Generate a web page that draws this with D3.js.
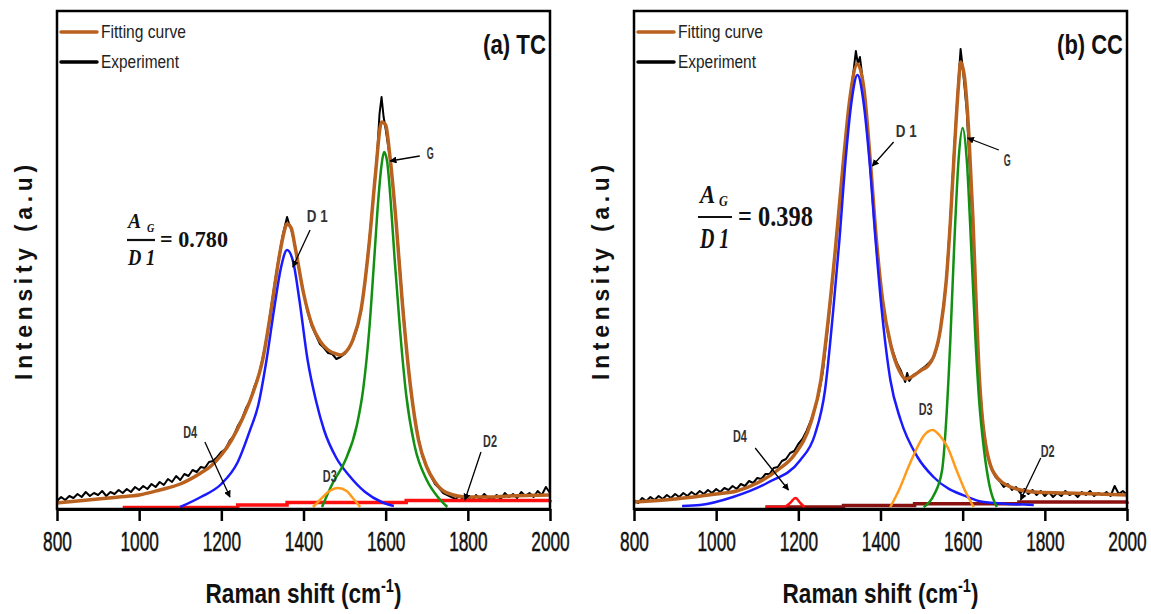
<!DOCTYPE html>
<html>
<head>
<meta charset="utf-8">
<script src="https://cdn.jsdelivr.net/npm/d3@7"></script>
<style>
  body { margin: 0; background: #fff; }
  svg { display: block; }
</style>
</head>
<body>
<svg width="1151" height="614"></svg>
<script>
// x ticks (Raman shift, cm-1)
const xTicks = [800, 1000, 1200, 1400, 1600, 1800, 2000]

// ---- (a) TC : [shift, intensity a.u.] ----
const tcExp = [[800,8],[810,12],[820,9],[830,13],[840,11],[850,15],[860,12],[870,17],[880,13],[890,16],[900,14],[910,18],[920,13],[930,17],[940,15],[950,19],[960,16],[970,20],[980,17],[990,22],[1000,19],[1010,23],[1020,20],[1030,25],[1040,22],[1050,27],[1060,24],[1070,30],[1080,27],[1090,33],[1100,29],[1110,35],[1120,33],[1130,39],[1140,37],[1150,42],[1160,41],[1170,47],[1180,48],[1190,52],[1200,57],[1210,60],[1220,68],[1230,73],[1240,83],[1250,90],[1260,101],[1270,108],[1280,122],[1290,132],[1300,150],[1310,170],[1320,198],[1330,226],[1340,252],[1350,275],[1360,292],[1365,285],[1370,280],[1380,262],[1390,238],[1400,216],[1410,197],[1420,183],[1430,174],[1440,165],[1450,161],[1460,156],[1470,155],[1480,150],[1490,152],[1500,155],[1510,160],[1520,168],[1530,180],[1540,198],[1550,228],[1560,268],[1570,312],[1580,360],[1585,395],[1590,412],[1595,392],[1600,380],[1610,352],[1620,312],[1630,264],[1640,212],[1650,162],[1660,122],[1670,92],[1680,70],[1690,52],[1700,42],[1710,33],[1720,25],[1730,21],[1740,16],[1750,14],[1760,12],[1770,10],[1780,13],[1790,9],[1800,12],[1810,8],[1820,14],[1830,10],[1840,15],[1850,11],[1860,9],[1870,14],[1880,10],[1890,16],[1900,12],[1910,15],[1920,11],[1930,17],[1940,13],[1950,16],[1960,12],[1970,18],[1980,14],[1990,22],[2000,16]]
const tcFit = [[800,6],[850,8],[900,10],[950,12],[1000,14],[1050,19],[1100,25],[1150,36],[1175,43],[1200,54],[1225,69],[1250,89],[1275,114],[1300,148],[1320,196],[1340,250],[1350,272],[1360,285],[1370,281],[1380,261],[1400,216],[1420,185],[1440,168],[1460,159],[1480,155],[1490,154],[1500,156],[1520,169],[1540,199],[1560,266],[1575,334],[1590,387],[1600,384],[1610,354],[1625,289],[1640,209],[1660,124],[1680,69],[1700,42],[1720,27],[1750,16],[1800,12],[1850,12],[1900,13],[2000,14]]
const tcD1 = [[1100,2],[1150,12],[1200,25],[1240,47],[1270,79],[1290,104],[1310,149],[1330,204],[1345,241],[1360,259],[1375,247],[1390,209],[1410,149],[1430,109],[1450,79],[1480,51],[1510,34],[1550,17],[1590,7],[1620,3]]
const tcG = [[1445,2],[1470,25],[1500,47],[1530,84],[1545,119],[1560,179],[1572,249],[1582,309],[1590,344],[1596,357],[1603,349],[1612,309],[1622,249],[1635,179],[1650,114],[1670,64],[1700,29],[1725,13],[1750,2]]
const tcD3 = [[1423,2],[1440,9],[1460,17],[1484,21],[1505,18],[1520,11],[1538,2]]
const tcD4D2 = [[960,1.5],[1240,4],[1360,6.5],[1650,8.5],[2000,9]]

// ---- (b) CC ----
const ccExp = [[800,9],[810,6],[820,11],[830,8],[840,12],[850,9],[860,13],[870,10],[880,14],[890,11],[900,15],[910,12],[920,16],[930,13],[940,17],[950,14],[960,18],[970,15],[980,19],[990,16],[1000,20],[1010,17],[1020,21],[1030,19],[1040,23],[1050,20],[1060,25],[1070,23],[1080,28],[1090,26],[1100,31],[1110,30],[1120,35],[1130,35],[1140,41],[1150,42],[1160,48],[1170,50],[1180,56],[1190,58],[1200,65],[1210,70],[1220,78],[1230,88],[1240,100],[1250,115],[1260,138],[1270,175],[1280,215],[1290,258],[1300,305],[1310,350],[1320,390],[1330,425],[1335,440],[1340,458],[1345,445],[1350,452],[1360,418],[1370,370],[1380,318],[1390,268],[1400,226],[1410,194],[1420,172],[1430,158],[1440,146],[1450,138],[1460,127],[1465,136],[1470,128],[1480,134],[1490,136],[1500,140],[1510,143],[1520,147],[1530,152],[1540,165],[1550,192],[1560,228],[1570,290],[1580,365],[1590,430],[1595,460],[1600,442],[1610,398],[1620,318],[1630,228],[1640,132],[1650,82],[1660,55],[1670,40],[1680,32],[1690,28],[1700,22],[1710,25],[1720,19],[1730,22],[1740,16],[1750,20],[1760,15],[1770,19],[1780,14],[1790,18],[1800,13],[1810,17],[1820,12],[1830,16],[1840,13],[1850,18],[1860,14],[1870,16],[1880,12],[1890,17],[1900,14],[1910,18],[1920,13],[1930,16],[1940,14],[1950,17],[1960,13],[1970,23],[1980,15],[1990,18],[2000,14]]
const ccFit = [[800,7],[900,10],[1000,15],[1050,18],[1100,26],[1150,39],[1190,54],[1230,86],[1255,129],[1270,179],[1290,259],[1310,349],[1325,409],[1344,445],[1360,419],[1375,349],[1390,269],[1405,209],[1425,164],[1445,139],[1461,130],[1475,132],[1500,139],[1515,143],[1530,153],[1546,180],[1560,228],[1570,287],[1580,360],[1590,425],[1595,447],[1605,430],[1615,375],[1625,290],[1632,215],[1639,145],[1651,79],[1676,36],[1717,22],[1773,17],[1850,16],[2000,14]]
const ccD1 = [[917,3],[961,4],[1041,12],[1124,26],[1205,49],[1240,74],[1265,119],[1285,199],[1300,269],[1315,349],[1330,409],[1344,434],[1358,409],[1373,349],[1388,269],[1403,199],[1424,129],[1449,89],[1490,52],[1529,32],[1612,12],[1651,7],[1773,4]]
const ccG = [[1505,2],[1530,14],[1550,39],[1560,89],[1570,169],[1580,269],[1590,349],[1600,381],[1610,349],[1620,269],[1630,179],[1640,109],[1652,59],[1665,24],[1683,2]]
const ccD3 = [[1424,2],[1445,19],[1470,44],[1490,62],[1505,73],[1527,79],[1545,73],[1563,62],[1585,39],[1605,19],[1627,2]]
const ccD4 = [[1120,2],[1165,2],[1180,6],[1193,11],[1205,6],[1215,2]]
const ccD2 = [[1120,2],[1310,3.5],[1483,5.3],[1737,7],[2000,7.5]]

// peak labels: text at [shift, intensity], arrow from -> to
const tcNotes = [
  {text: 'D 1', at: [1408, 287], from: [1416, 279], to: [1374, 242]},
  {text: 'G', at: [1700, 350], from: [1683, 353], to: [1611, 348]},
  {text: 'D4', at: [1107, 71], from: [1160, 67], to: [1221, 12]},
  {text: 'D3', at: [1447, 27]},
  {text: 'D2', at: [1837, 62], from: [1832, 57], to: [1793, 9]}
]
const ccNotes = [
  {text: 'D 1', at: [1437, 372], from: [1432, 367], to: [1380, 343]},
  {text: 'G', at: [1700, 343], from: [1688, 359], to: [1612, 371]},
  {text: 'D3', at: [1493, 94]},
  {text: 'D4', at: [1041, 67], from: [1095, 61], to: [1176, 19]},
  {text: 'D2', at: [1790, 52], from: [1790, 51], to: [1741, 9]}
]

const ratios = ['0.780', '0.398']

const panels = [
  {left: 57, tag: '(a) TC', tagW: 63, exp: tcExp, fit: tcFit, notes: tcNotes, ratio: ratios[0],
   comps: [[tcD4D2, '#ff1010', 3.5, 'step'], [tcD1, '#1a1aff', 2.5], [tcG, '#129012', 2.5], [tcD3, '#ff9a1a', 2.5]],
   frac: {ax: 71, ay: 228, as: 22, gx: 90, gy: 232, gs: 13, bx1: 70, bx2: 98, by: 240, dy: 265, ds: 24, dw: 28, ex: 103, ey: 247, es: 24, ew: 68}},
  {left: 634, tag: '(b) CC', tagW: 66, exp: ccExp, fit: ccFit, notes: ccNotes, ratio: ratios[1],
   comps: [[ccD2, '#8b1010', 3.5, 'step'], [ccD4, '#ff1010', 2.5], [ccD1, '#1a1aff', 2.5], [ccG, '#129012', 2.5], [ccD3, '#ff9a1a', 2.5]],
   frac: {ax: 66, ay: 203, as: 25, gx: 85, gy: 206, gs: 15, bx1: 64, bx2: 98, by: 217, dy: 248, ds: 30, dw: 30, ex: 104, ey: 226, es: 30, ew: 75}}
]

const svg = d3.select('svg')
const plotTop = 11, plotBottom = 509, plotW = 493
const narrow = '"Liberation Sans Narrow", "Arial Narrow", "Liberation Sans", Arial, sans-serif'
const serif = '"Liberation Serif", "DejaVu Serif", serif'
const fitColor = '#b9621f'

svg.append('defs').append('marker')
  .attr('id', 'arrow')
  .attr('viewBox', '0 0 10 10')
  .attr('refX', 9).attr('refY', 5)
  .attr('markerWidth', 7).attr('markerHeight', 7)
  .attr('markerUnits', 'userSpaceOnUse')
  .attr('orient', 'auto')
  .append('path').attr('d', 'M0,0 L10,5 L0,10 z').attr('fill', '#000')

// squeeze a text to a given width (the figure fonts are very condensed)
function fitText(parent, str, x, y, width, opts) {
  const g = parent.append('g').attr('transform', `translate(${x},${y})` + (opts.rotate ? ` rotate(${opts.rotate})` : ''))
  const t = g.append('text')
    .attr('font-family', opts.family || narrow)
    .attr('font-size', opts.size)
    .attr('font-weight', opts.weight || 'normal')
    .attr('font-style', opts.style || 'normal')
    .attr('fill', opts.fill || '#111')
    .attr('text-anchor', opts.anchor || 'start')
  if (opts.spacing) t.attr('letter-spacing', opts.spacing)
  if (opts.build) opts.build(t)
  else t.text(str)
  const len = t.node().getBBox().width
  t.attr('transform', `scale(${width / len},1)`)
  return t
}

panels.forEach(p => {
  const x = d3.scaleLinear().domain([800, 2000]).range([p.left, p.left + plotW])
  const y = d3.scaleLinear().domain([0, 498]).range([plotBottom, plotTop])
  const g = svg.append('g')

  const line = d3.line().x(d => x(d[0])).y(d => y(d[1])).curve(d3.curveMonotoneX)
  const stepLine = d3.line().x(d => x(d[0])).y(d => y(d[1])).curve(d3.curveStepAfter)

  // experiment (noisy) then fitting curve
  g.append('path').datum(p.exp).attr('d', d3.line().x(d => x(d[0])).y(d => y(d[1])))
    .attr('fill', 'none').attr('stroke', '#000').attr('stroke-width', 2).attr('stroke-linejoin', 'round')
  g.append('path').datum(p.fit).attr('d', line)
    .attr('fill', 'none').attr('stroke', fitColor).attr('stroke-width', 3.5).attr('stroke-linejoin', 'round')

  // fitted components
  p.comps.forEach(c => {
    g.append('path').datum(c[0]).attr('d', c[3] == 'step' ? stepLine : line)
      .attr('fill', 'none').attr('stroke', c[1]).attr('stroke-width', c[2])
  })

  // frame + axis
  g.append('rect').attr('x', p.left).attr('y', plotTop)
    .attr('width', plotW).attr('height', plotBottom - plotTop)
    .attr('fill', 'none').attr('stroke', '#000').attr('stroke-width', 2.5)

  const xAxis = d3.axisBottom(x).tickValues(xTicks).tickSize(12).tickSizeOuter(0).tickPadding(10).tickFormat(d3.format('d'))
  const ax = g.append('g').attr('transform', `translate(0,${plotBottom})`).call(xAxis)
  ax.select('.domain').attr('stroke-width', 3)
  ax.selectAll('.tick line').attr('stroke-width', 2.5)
  ax.selectAll('.tick text')
    .attr('font-family', narrow).attr('font-size', 28).attr('fill', '#111')
    .attr('stroke', '#111').attr('stroke-width', 0.5)
    .attr('textLength', d => String(d).length * 9.6).attr('lengthAdjust', 'spacingAndGlyphs')

  // axis titles
  fitText(g, null, p.left + plotW / 2, 603, 196, {size: 28, weight: 'bold', anchor: 'middle', build: t => {
    t.append('tspan').text('Raman shift (cm')
    t.append('tspan').attr('font-size', 18).attr('dy', -11).text('-1')
    t.append('tspan').attr('dy', 11).text(')')
  }})
  fitText(g, 'Intensity (a.u)', p.left - 25, 270, 220, {size: 24, weight: 'bold', anchor: 'middle', rotate: -90, spacing: 5, family: '"Liberation Sans", Arial, sans-serif'})

  // legend
  const leg = [['Fitting curve', fitColor, 32, 85], ['Experiment', '#000', 62, 78]]
  leg.forEach(l => {
    g.append('line').attr('x1', p.left + 4).attr('x2', p.left + 40).attr('y1', l[2]).attr('y2', l[2])
      .attr('stroke', l[1]).attr('stroke-width', 3.5).attr('stroke-linecap', 'round')
    fitText(g, l[0], p.left + 44, l[2] + 6, l[3], {size: 18, fill: '#222'})
  })

  // panel tag
  fitText(g, p.tag, p.left + 489, 54, p.tagW, {size: 27, anchor: 'end', weight: 'bold'})

  // peak annotations
  p.notes.forEach(n => {
    fitText(g, n.text, x(n.at[0]), y(n.at[1]), n.text.length * 7, {size: 16, fill: '#333', weight: 'bold'})
    if (n.from) {
      g.append('line')
        .attr('x1', x(n.from[0])).attr('y1', y(n.from[1]))
        .attr('x2', x(n.to[0])).attr('y2', y(n.to[1]))
        .attr('stroke', '#000').attr('stroke-width', 1.3).attr('marker-end', 'url(#arrow)')
    }
  })

  // area ratio  A_G / D1 = ...
  const f = p.frac
  fitText(g, 'A', p.left + f.ax, f.ay, f.as * 0.68, {size: f.as, family: serif, style: 'italic', weight: 'bold'})
  fitText(g, 'G', p.left + f.gx, f.gy, f.gs * 0.6, {size: f.gs, family: serif, style: 'italic', weight: 'bold'})
  g.append('line').attr('x1', p.left + f.bx1).attr('x2', p.left + f.bx2).attr('y1', f.by).attr('y2', f.by)
    .attr('stroke', '#111').attr('stroke-width', 2.2)
  fitText(g, 'D 1', p.left + f.ax, f.dy, f.dw, {size: f.ds, family: serif, style: 'italic', weight: 'bold'})
  fitText(g, '= ' + p.ratio, p.left + f.ex, f.ey, f.ew, {size: f.es, family: serif, weight: 'bold'})
})
</script>
</body>
</html>
